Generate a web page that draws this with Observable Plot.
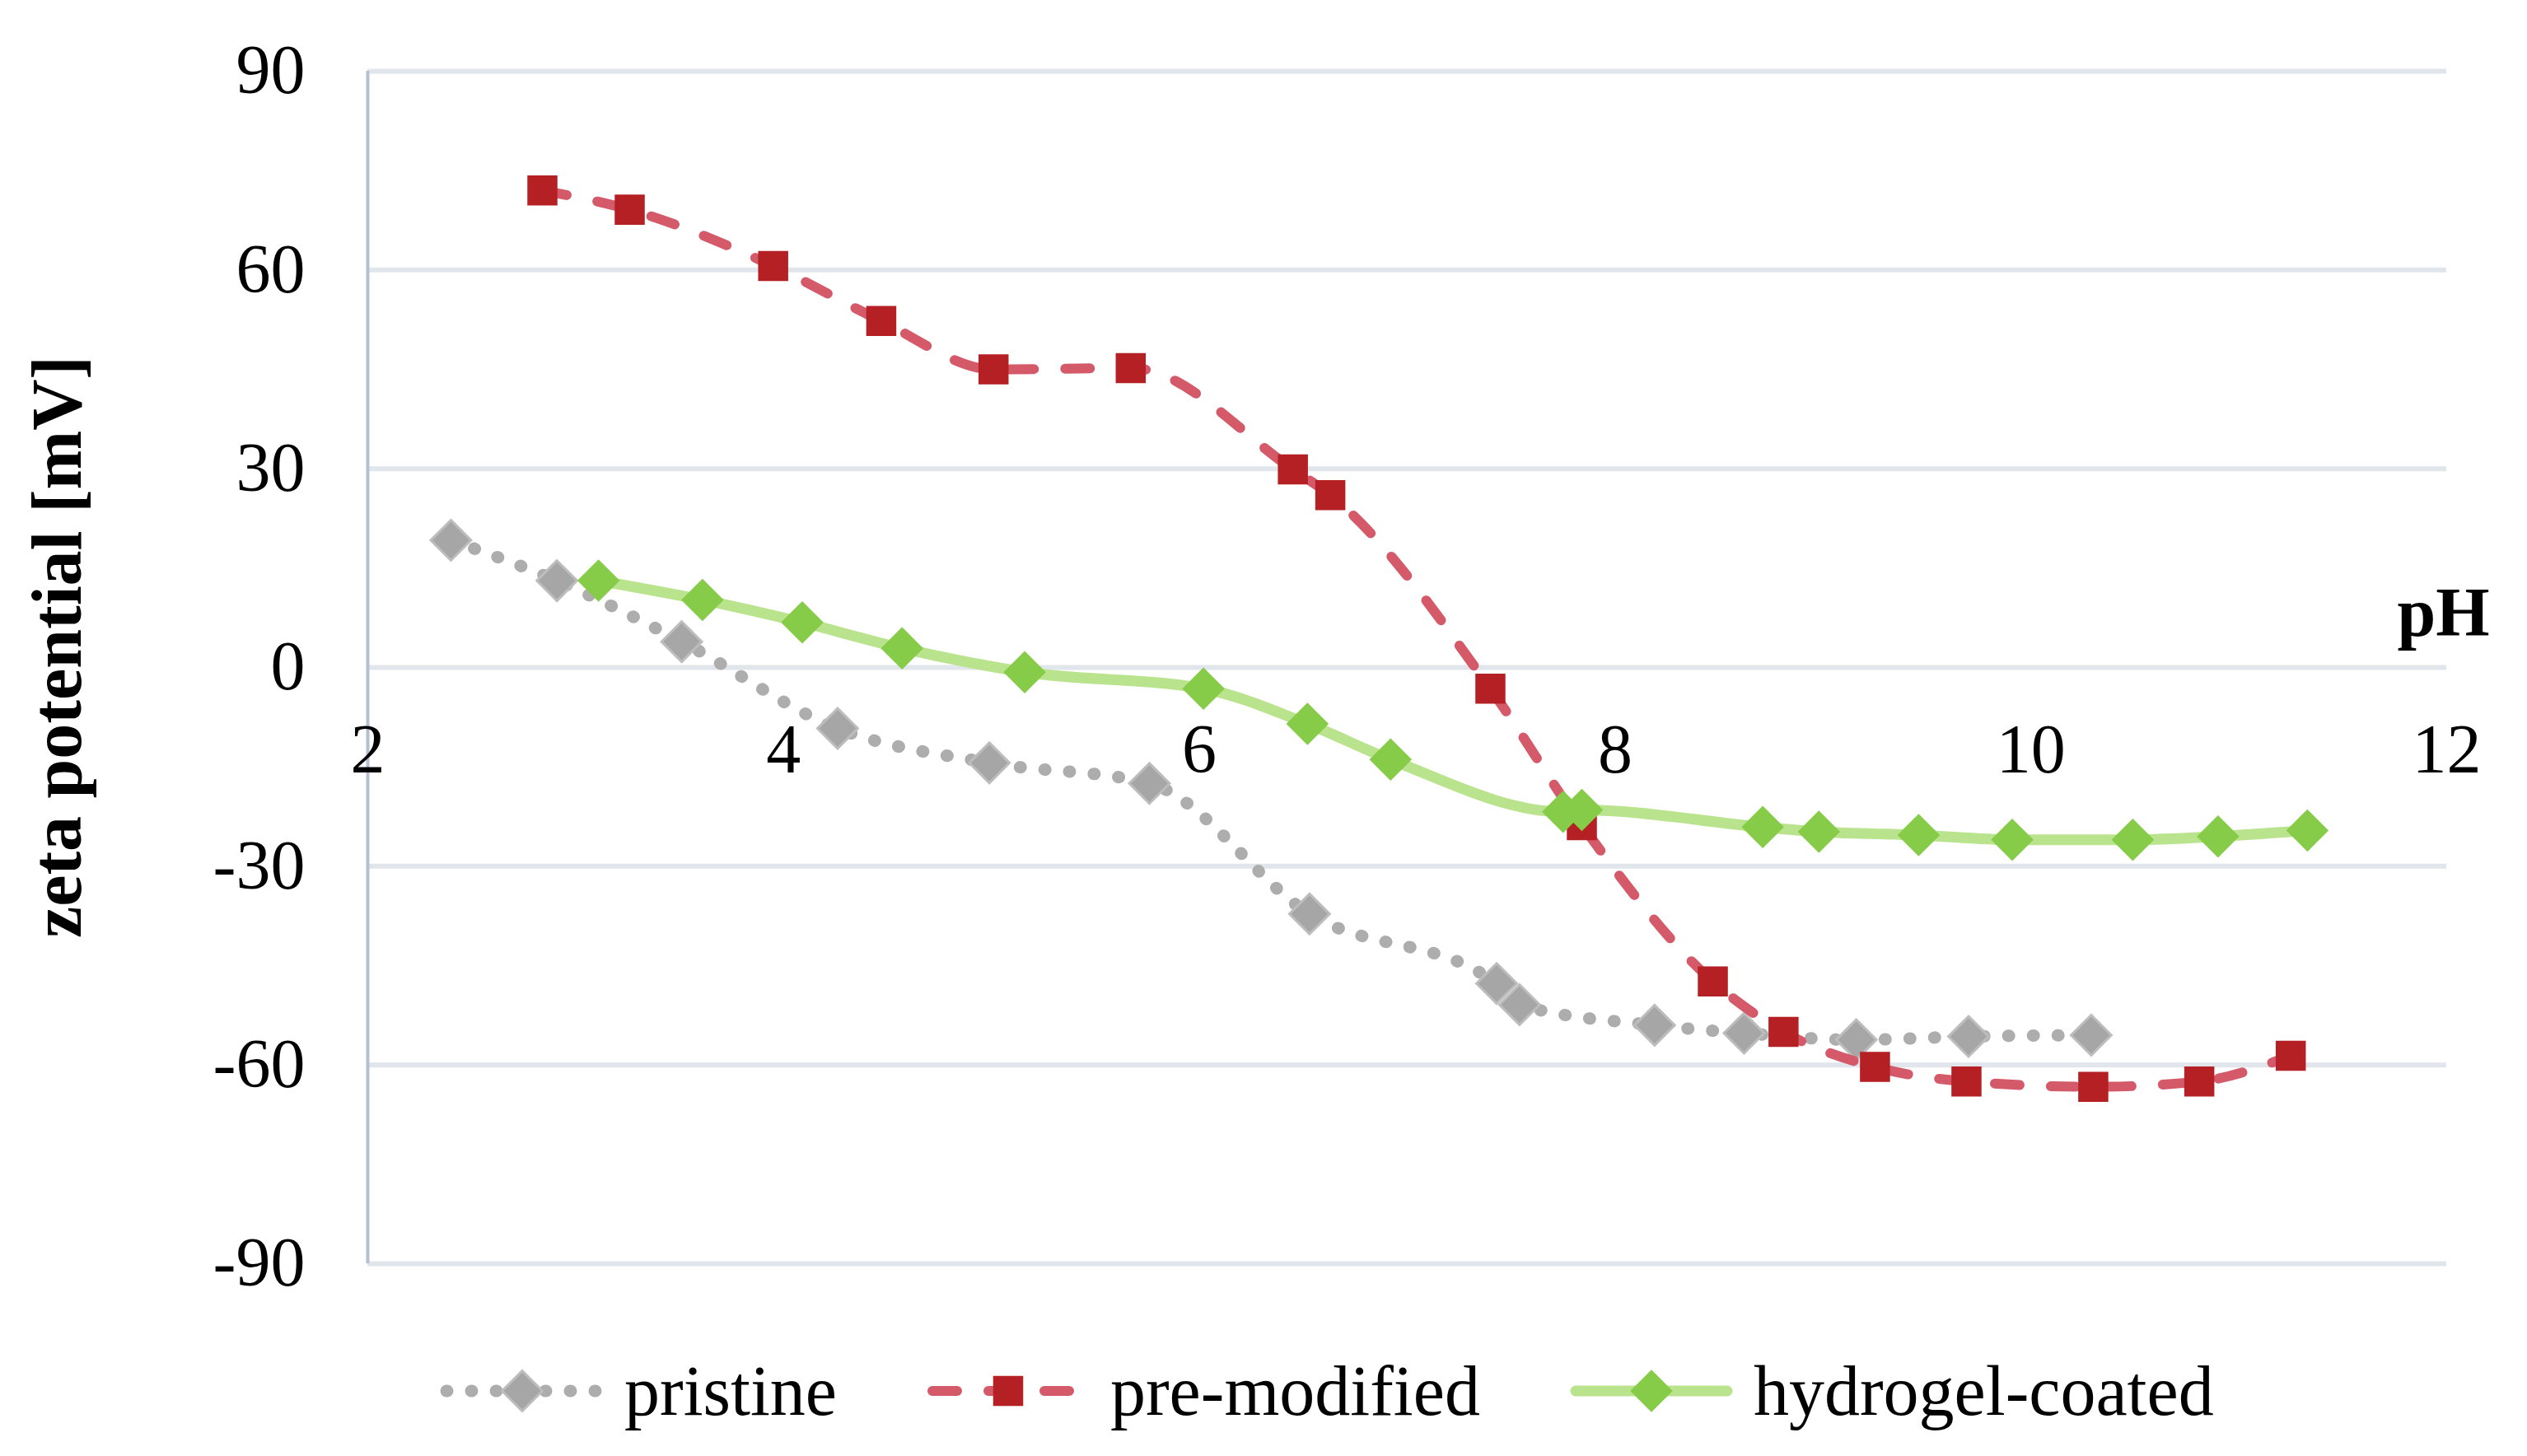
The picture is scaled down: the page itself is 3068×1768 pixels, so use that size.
<!DOCTYPE html>
<html><head><meta charset="utf-8">
<script src="https://cdn.jsdelivr.net/npm/d3@7"></script>
<script src="https://cdn.jsdelivr.net/npm/@observablehq/plot@0.6"></script>
<style>
html,body{margin:0;padding:0;background:#fff;}
#chart{width:3068px;}
.legend{height:118px;display:flex;align-items:center;padding-left:534px;font-family:"Liberation Serif",serif;font-size:86px;line-height:86px;color:#000;}
.item{display:flex;align-items:center;margin-right:108px;}
.item svg{display:block;margin-right:24px;}
</style></head><body>
<div id="chart"></div>
<div class="legend" id="legend"></div>
<script>
// ---- data ----
const seriesNames = ["pristine", "pre-modified", "hydrogel-coated"];
const pristinePH   = [2.40, 2.91, 3.51, 4.26, 4.99, 5.76, 6.53, 7.43, 7.54, 8.19, 8.62, 9.16, 9.70, 10.29];
const pristineZeta = [19.2, 13.1, 3.9, -9.2, -14.4, -17.5, -37.2, -47.7, -50.9, -54.0, -55.2, -56.2, -55.7, -55.5];
const premodPH     = [2.84, 3.26, 3.95, 4.47, 5.01, 5.67, 6.45, 6.63, 7.40, 7.84, 8.47, 8.81, 9.25, 9.69, 10.30, 10.81, 11.25];
const premodZeta   = [72.0, 69.1, 60.6, 52.3, 45.0, 45.2, 29.9, 26.0, -3.2, -23.8, -47.4, -55.0, -60.3, -62.5, -63.3, -62.5, -58.6];
const hydrogelPH   = [3.11, 3.61, 4.09, 4.57, 5.16, 6.02, 6.52, 6.92, 7.75, 7.84, 8.71, 8.98, 9.46, 9.91, 10.49, 10.90, 11.33];
const hydrogelZeta = [13.1, 10.2, 6.8, 2.9, -0.7, -3.2, -8.5, -13.9, -21.8, -21.5, -24.1, -24.8, -25.3, -26.0, -26.0, -25.5, -24.6];
const xTicks = [2, 4, 6, 8, 10, 12];
const yTicks = [-90, -60, -30, 0, 30, 60, 90];
const xLabel = "pH";
const yLabel = "zeta potential [mV]";

// ---- styles ----
const FONT = "Liberation Serif";
const styles = {
  "pristine":        {line: "#adadad", width: 15, dash: "1 29",  symbol: "diamond2", fill: "#a6a6a6", stroke: "#bdbdbd", sw: 3, r: 22},
  "pre-modified":    {line: "#d45a69", width: 12, dash: "30 38", symbol: "square",   fill: "#b52025", stroke: "none",    sw: 0, r: 20.6},
  "hydrogel-coated": {line: "#b9e38c", width: 13, dash: null,    symbol: "diamond2", fill: "#86cc48", stroke: "none",    sw: 0, r: 23.2}
};

const pairs = [[pristinePH, pristineZeta], [premodPH, premodZeta], [hydrogelPH, hydrogelZeta]];
const rows = seriesNames.map((name, k) => pairs[k][0].map((ph, i) => ({series: name, pH: ph, zeta: pairs[k][1][i]})));

const seriesMarks = [];
seriesNames.forEach((name, k) => {
  const s = styles[name];
  seriesMarks.push(Plot.line(rows[k], {x: "pH", y: "zeta", stroke: s.line, strokeWidth: s.width,
    strokeDasharray: s.dash || undefined, strokeLinecap: "round", strokeLinejoin: "round", curve: "monotone-x"}));
  seriesMarks.push(Plot.dot(rows[k], {x: "pH", y: "zeta", symbol: s.symbol, r: s.r, fill: s.fill,
    stroke: s.stroke, strokeWidth: s.sw}));
});

const chart = Plot.plot({
  width: 3068,
  height: 1630,
  marginLeft: 446,
  marginRight: 98,
  marginTop: 86,
  marginBottom: 96,
  style: {fontFamily: FONT, fontSize: "84px", color: "#000", background: "#fff"},
  x: {domain: [2, 12], axis: null},
  y: {domain: [-90, 90]},
  marks: [
    Plot.gridY(yTicks, {stroke: "#e1e5ec", strokeWidth: 6, strokeOpacity: 1}),
    Plot.ruleX([2], {stroke: "#b4bfd1", strokeWidth: 4}),
    Plot.axisY(yTicks, {tickSize: 0, tickPadding: 76, fontSize: 84, fontFamily: FONT, label: null, tickFormat: d => String(d)}),
    Plot.text(xTicks, {x: d => d, y: 0, text: d => String(d), dy: 101, fontSize: 84, fontFamily: FONT, fill: "#000"}),
    Plot.text([xLabel], {x: 12, y: 0, text: d => d, textAnchor: "end", dx: 52, dy: -65, fontSize: 84, fontWeight: "bold", fontFamily: FONT, fill: "#000"}),
    Plot.text([yLabel], {frameAnchor: "left", textAnchor: "middle", text: d => d, rotate: -90, dx: -376, dy: -25, fontSize: 86, fontWeight: "bold", fontFamily: FONT, fill: "#000"}),
    ...seriesMarks
  ]
});
document.getElementById("chart").appendChild(chart);

// ---- legend ----
const symMap = {diamond2: d3.symbolDiamond2, square: d3.symbolSquare};
const legend = d3.select("#legend");
seriesNames.forEach(name => {
  const s = styles[name];
  const item = legend.append("div").attr("class", "item");
  const svg = item.append("svg").attr("width", 200).attr("height", 70);
  svg.append("line").attr("x1", 8).attr("x2", 192).attr("y1", 35).attr("y2", 35)
    .attr("stroke", s.line).attr("stroke-width", s.width).attr("stroke-linecap", "round")
    .attr("stroke-dasharray", s.dash);
  svg.append("path").attr("transform", "translate(100,35)")
    .attr("d", d3.symbol(symMap[s.symbol], Math.PI * s.r * s.r)())
    .attr("fill", s.fill).attr("stroke", s.stroke).attr("stroke-width", s.sw);
  item.append("span").text(name);
});
</script>
</body></html>
